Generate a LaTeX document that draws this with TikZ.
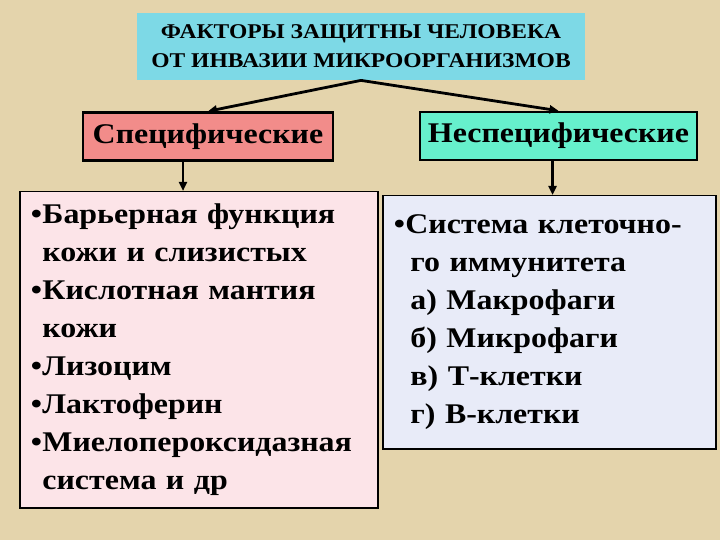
\documentclass[tikz,border=0pt]{standalone}
\usepackage{fontspec}
\setmainfont{Liberation Serif}[FakeStretch=1.12]
\usetikzlibrary{arrows.meta}
\definecolor{parchment}{HTML}{E4D4AC}
\definecolor{titlecyan}{HTML}{7DD9E6}
\definecolor{specred}{HTML}{F28C8A}
\definecolor{nonspecgreen}{HTML}{66F0CC}
\definecolor{specpink}{HTML}{FCE4E8}
\definecolor{nonspecblue}{HTML}{E8EBF8}
\newcommand{\blt}{•\kern0.5pt}
\newcommand{\ind}{\hphantom{\blt}}

\begin{document}
\begin{tikzpicture}[x=1pt,y=-1pt,thick]
      \tikzstyle{every node}=[font=\bfseries,inner sep=0pt]
      \tikzstyle{headbox}=[draw=black,line width=2.5pt,font=\bfseries\fontsize{28.5}{30}\selectfont]
      \tikzstyle{listbox}=[draw=black,line width=1.5pt,align=left,anchor=north west,
                           font=\bfseries\fontsize{28.5}{38}\selectfont]
      \tikzstyle{arr}=[line width=2.8pt,-{Triangle[length=9pt,width=8pt]}]
      % 
      \fill[parchment] (0,0) rectangle (720,540);
      \useasboundingbox (0,0) rectangle (720,540);
      % 
      \node [fill=titlecyan,minimum width=448,minimum height=67,align=center,
             font=\bfseries\fontsize{21}{29}\selectfont] (factors) at (361,46.5)
            {ФАКТОРЫ ЗАЩИТНЫ ЧЕЛОВЕКА\\ОТ ИНВАЗИИ МИКРООРГАНИЗМОВ};
      \node [headbox,fill=specred,minimum width=250,minimum height=48] (spec) at (208,136.5)
            {Специфические};
      \node [headbox,fill=nonspecgreen,minimum width=277,minimum height=48] (nonspec) at (558.5,136)
            {Неспецифические};
      \node [listbox,fill=specpink,minimum width=358,minimum height=316,text width=336,
             inner xsep=11pt] (speclist) at (19,191)
            {\blt Барьерная функция\\
             \ind кожи и слизистых\\
             \blt Кислотная мантия\\
             \ind кожи\\
             \blt Лизоцим\\
             \blt Лактоферин\\
             \blt Миелопероксидазная\\
             \ind система и др};
      \node [listbox,fill=nonspecblue,minimum width=333,minimum height=253,text width=311,
             inner xsep=11pt] (nonspeclist) at (382,195)
            {\blt Система клеточно-\\
             \ind\kern5pt го иммунитета\\
             \ind\kern5pt а) Макрофаги\\
             \ind\kern5pt б) Микрофаги\\
             \ind\kern5pt в) Т-клетки\\
             \ind\kern5pt г) В-клетки};
      % 
      \draw [arr] (factors.south) -- (spec.north);
      \draw [arr] (factors.south) -- (nonspec.north);
      \draw [arr] ([xshift=-25pt]spec.south) -- ([xshift=-25pt]spec.south |- speclist.north);
      \draw [arr] ([xshift=-6pt]nonspec.south) -- ([xshift=-6pt]nonspec.south |- nonspeclist.north);
\end{tikzpicture}
\end{document}
